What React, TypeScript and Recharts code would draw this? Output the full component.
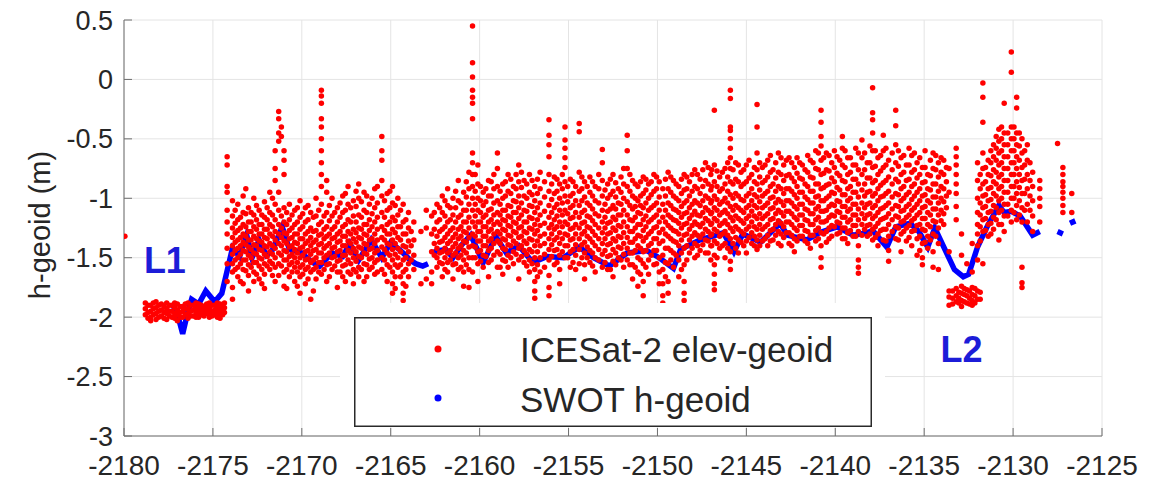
import React from 'react';
import { ComposedChart, Scatter, Line, XAxis, YAxis, CartesianGrid, Legend, ReferenceDot } from 'recharts';

const xTicks = [-2180, -2175, -2170, -2165, -2160, -2155, -2150, -2145, -2140, -2135, -2130, -2125];
const yTicks = [-3, -2.5, -2, -1.5, -1, -0.5, 0, 0.5];
const seriesNames = ['ICESat-2 elev-geoid', 'SWOT h-geoid'];
const seriesColors = ['#ff0000', '#0000ff'];
const regionLabels = [
  { text: 'L1', x: -2177.7, y: -1.52 },
  { text: 'L2', x: -2132.9, y: -2.27 },
];

type Col = [number, number[]];

const icesatL1: Col[] = [
  [-2179.95, [-1.32]],
  [-2178.8, [-1.88, -1.93, -1.98]],
  [-2178.65, [-1.9, -1.96, -2.01]],
  [-2178.5, [-1.9, -1.95, -2.0, -2.03]],
  [-2178.35, [-1.88, -1.93, -1.98]],
  [-2178.2, [-1.87, -1.92, -1.97, -2.02]],
  [-2178.05, [-1.9, -1.95, -2.0]],
  [-2177.9, [-1.89, -1.94, -1.99]],
  [-2177.75, [-1.91, -1.96, -2.01]],
  [-2177.6, [-1.88, -1.93, -1.97, -2.02]],
  [-2177.45, [-1.9, -1.95, -1.99]],
  [-2177.3, [-1.9, -1.95, -2.0]],
  [-2177.15, [-1.88, -1.92, -1.97, -2.01]],
  [-2177.0, [-1.89, -1.94, -1.98, -2.03]],
  [-2176.85, [-1.91, -1.96, -2.0]],
  [-2176.7, [-1.91, -1.95, -2.0]],
  [-2176.55, [-1.89, -1.93, -1.98]],
  [-2176.4, [-1.88, -1.93, -1.97, -2.01]],
  [-2176.25, [-1.9, -1.95, -1.99]],
  [-2176.1, [-1.9, -1.94, -1.99]],
  [-2175.95, [-1.88, -1.92, -1.96, -2.0]],
  [-2175.8, [-1.89, -1.93, -1.97, -2.0]],
  [-2175.65, [-1.9, -1.94, -1.98]],
  [-2175.5, [-1.91, -1.95, -1.99]],
  [-2175.35, [-1.89, -1.93, -1.97]],
  [-2175.2, [-1.88, -1.92, -1.96, -2.0]],
  [-2175.05, [-1.9, -1.95, -1.99]],
  [-2174.9, [-1.9, -1.94, -1.98]],
  [-2174.75, [-1.88, -1.92, -1.96, -2.0]],
  [-2174.6, [-1.89, -1.93, -1.97, -2.01]],
  [-2174.45, [-1.9, -1.94, -1.98]],
  [-2174.35, [-1.88, -1.92, -1.96]],
];

const icesatWest: Col[] = [
  [-2174.2, [-0.65, -0.72, -0.9, -0.95, -1.1, -1.2, -1.3, -1.42, -1.55, -1.7]],
  [-2173.9, [-1.02, -1.15, -1.25, -1.33, -1.4, -1.47, -1.55, -1.62, -1.75, -1.85]],
  [-2173.6, [-1.05, -1.18, -1.27, -1.35, -1.42, -1.5, -1.58, -1.66]],
  [-2173.3, [-0.98, -1.12, -1.22, -1.3, -1.37, -1.44, -1.52, -1.6, -1.72]],
  [-2173.0, [-1.08, -1.2, -1.28, -1.35, -1.41, -1.48, -1.56, -1.65, -1.78]],
  [-2172.7, [-1.0, -1.14, -1.24, -1.32, -1.39, -1.46, -1.54, -1.62, -1.7]],
  [-2172.4, [-1.1, -1.22, -1.3, -1.36, -1.43, -1.5, -1.57, -1.68]],
  [-2172.1, [-1.03, -1.16, -1.26, -1.33, -1.4, -1.47, -1.55, -1.64, -1.76]],
  [-2171.8, [-0.95, -1.12, -1.22, -1.3, -1.38, -1.45, -1.53, -1.6]],
  [-2171.5, [-0.6, -0.75, -0.85, -1.05, -1.18, -1.28, -1.35, -1.42, -1.5, -1.58, -1.7]],
  [-2171.3, [-0.27, -0.33, -0.45, -0.52, -0.95, -1.1, -1.22, -1.3, -1.38, -1.46, -1.55, -1.65]],
  [-2171.0, [-0.6, -0.68, -0.8, -1.08, -1.2, -1.29, -1.36, -1.44, -1.52, -1.62, -1.74]],
  [-2170.7, [-1.05, -1.18, -1.27, -1.34, -1.41, -1.49, -1.56, -1.66]],
  [-2170.4, [-1.1, -1.22, -1.3, -1.37, -1.43, -1.5, -1.58, -1.7]],
  [-2170.1, [-1.02, -1.16, -1.26, -1.34, -1.42, -1.5, -1.58, -1.66, -1.8]],
  [-2169.8, [-1.08, -1.2, -1.3, -1.38, -1.45, -1.52, -1.6, -1.72]],
  [-2169.5, [-1.12, -1.25, -1.33, -1.4, -1.47, -1.54, -1.62, -1.85]],
  [-2169.2, [-1.0, -1.15, -1.27, -1.35, -1.43, -1.5, -1.58, -1.68]],
  [-2168.9, [-0.09, -0.14, -0.2, -0.33, -0.4, -0.5, -0.6, -0.7, -0.8, -0.9, -1.05, -1.2, -1.3, -1.38, -1.46, -1.54, -1.64]],
  [-2168.6, [-0.85, -0.95, -1.12, -1.24, -1.32, -1.4, -1.48, -1.56, -1.7]],
  [-2168.3, [-1.0, -1.15, -1.26, -1.34, -1.42, -1.5, -1.6]],
  [-2168.0, [-1.08, -1.2, -1.3, -1.37, -1.45, -1.53, -1.62, -1.75]],
  [-2167.7, [-0.98, -1.12, -1.24, -1.32, -1.4, -1.48, -1.57, -1.66]],
  [-2167.4, [-0.9, -1.05, -1.18, -1.28, -1.36, -1.44, -1.52, -1.62]],
  [-2167.1, [-1.02, -1.15, -1.26, -1.34, -1.42, -1.5, -1.6, -1.72]],
  [-2166.8, [-0.88, -1.0, -1.14, -1.25, -1.33, -1.41, -1.49, -1.58, -1.66]],
  [-2166.5, [-0.95, -1.1, -1.22, -1.3, -1.38, -1.46, -1.55, -1.7]],
  [-2166.2, [-1.05, -1.18, -1.27, -1.35, -1.43, -1.51, -1.6]],
  [-2165.9, [-0.92, -1.08, -1.2, -1.3, -1.38, -1.46, -1.54, -1.64]],
  [-2165.5, [-0.48, -0.6, -0.68, -0.85, -0.98, -1.12, -1.24, -1.33, -1.41, -1.5, -1.6]],
  [-2165.2, [-0.96, -1.1, -1.22, -1.3, -1.38, -1.46, -1.56, -1.7]],
  [-2164.9, [-0.9, -1.04, -1.16, -1.26, -1.35, -1.43, -1.52, -1.62, -1.72, -1.8]],
  [-2164.6, [-1.0, -1.14, -1.24, -1.33, -1.42, -1.5, -1.58]],
  [-2164.3, [-1.05, -1.2, -1.3, -1.4, -1.52, -1.62, -1.72, -1.8, -1.86]],
  [-2164.0, [-1.12, -1.25, -1.36, -1.45, -1.55, -1.66]],
  [-2163.7, [-1.2, -1.35, -1.48, -1.6]],
  [-2163.3, [-1.28, -1.72]],
  [-2163.0, [-1.1, -1.25, -1.68]],
];

const icesatWestFill: Col[] = [
  [-2173.75, [-1.1, -1.21, -1.29, -1.37, -1.44, -1.52, -1.6]],
  [-2173.45, [-1.16, -1.25, -1.33, -1.4, -1.47, -1.55, -1.7]],
  [-2173.15, [-0.92, -1.13, -1.24, -1.32, -1.39, -1.45, -1.52, -1.61]],
  [-2172.85, [-1.12, -1.2, -1.28, -1.35, -1.43, -1.5, -1.58]],
  [-2172.55, [-1.06, -1.18, -1.26, -1.34, -1.4, -1.47, -1.54, -1.64]],
  [-2172.25, [-1.14, -1.22, -1.3, -1.37, -1.44, -1.51, -1.6, -1.72]],
  [-2171.95, [-1.08, -1.18, -1.26, -1.34, -1.41, -1.49, -1.57]],
  [-2171.65, [-1.0, -1.14, -1.24, -1.32, -1.4, -1.47, -1.55, -1.65]],
  [-2171.15, [-0.4, -0.48, -1.15, -1.25, -1.33, -1.4, -1.48, -1.57]],
  [-2170.85, [-1.12, -1.22, -1.3, -1.38, -1.45, -1.52, -1.6, -1.76]],
  [-2170.55, [-1.14, -1.25, -1.33, -1.4, -1.47, -1.54, -1.62]],
  [-2170.25, [-1.08, -1.2, -1.3, -1.38, -1.46, -1.54, -1.62, -1.74]],
  [-2169.95, [-1.13, -1.24, -1.34, -1.41, -1.48, -1.56, -1.64]],
  [-2169.65, [-1.06, -1.18, -1.28, -1.36, -1.44, -1.51, -1.58, -1.68]],
  [-2169.35, [-1.16, -1.28, -1.37, -1.44, -1.52, -1.6, -1.78]],
  [-2169.05, [-1.1, -1.22, -1.31, -1.39, -1.46, -1.54, -1.62]],
  [-2168.75, [-1.15, -1.26, -1.34, -1.42, -1.5, -1.6]],
  [-2168.45, [-1.06, -1.19, -1.3, -1.38, -1.46, -1.55, -1.66]],
  [-2168.15, [-1.12, -1.24, -1.33, -1.41, -1.49, -1.57]],
  [-2167.85, [-1.04, -1.16, -1.28, -1.36, -1.44, -1.52, -1.62]],
  [-2167.55, [-0.96, -1.1, -1.22, -1.32, -1.4, -1.48, -1.56, -1.7]],
  [-2167.25, [-1.08, -1.2, -1.3, -1.38, -1.46, -1.55, -1.64]],
  [-2166.95, [-0.94, -1.07, -1.2, -1.29, -1.37, -1.45, -1.53, -1.62]],
  [-2166.65, [-1.03, -1.16, -1.26, -1.34, -1.42, -1.5, -1.6]],
  [-2166.35, [-0.98, -1.12, -1.22, -1.31, -1.39, -1.47, -1.56, -1.66]],
  [-2166.05, [-1.0, -1.13, -1.24, -1.34, -1.42, -1.5, -1.58]],
  [-2165.75, [-0.9, -1.04, -1.16, -1.26, -1.35, -1.44, -1.52, -1.62]],
  [-2165.35, [-1.02, -1.16, -1.27, -1.35, -1.43, -1.52, -1.64]],
  [-2165.05, [-0.94, -1.08, -1.2, -1.3, -1.39, -1.48, -1.58]],
  [-2164.75, [-1.06, -1.19, -1.29, -1.38, -1.47, -1.56, -1.66, -1.76]],
  [-2164.45, [-1.1, -1.24, -1.35, -1.45, -1.56, -1.66]],
  [-2164.15, [-1.18, -1.3, -1.41, -1.5, -1.6, -1.74]],
  [-2163.85, [-1.28, -1.4, -1.52]],
];

const icesatCentral: Col[] = [
  [-2162.7, [-1.15, -1.3, -1.45, -1.62, -1.72]],
  [-2162.4, [-1.05, -1.2, -1.32, -1.42, -1.5, -1.58]],
  [-2162.1, [-0.98, -1.12, -1.26, -1.36, -1.45, -1.55, -1.66]],
  [-2161.8, [-0.92, -1.06, -1.2, -1.3, -1.38, -1.46, -1.54, -1.62]],
  [-2161.5, [-1.0, -1.14, -1.25, -1.33, -1.41, -1.48, -1.56, -1.68]],
  [-2161.2, [-0.85, -1.02, -1.16, -1.26, -1.34, -1.42, -1.5, -1.6]],
  [-2160.9, [-0.95, -1.1, -1.2, -1.28, -1.36, -1.44, -1.52, -1.62, -1.74]],
  [-2160.6, [-0.78, -0.92, -1.05, -1.16, -1.25, -1.33, -1.41, -1.5, -1.6, -1.75]],
  [-2160.4, [0.45, 0.14, 0.02, -0.09, -0.15, -0.2, -0.33, -0.62, -0.7, -0.8, -0.9, -1.0, -1.1, -1.2, -1.3, -1.4, -1.5, -1.62]],
  [-2160.1, [-0.72, -0.88, -1.0, -1.1, -1.2, -1.28, -1.36, -1.45, -1.55, -1.7]],
  [-2159.8, [-0.95, -1.06, -1.16, -1.24, -1.32, -1.4, -1.48, -1.58]],
  [-2159.5, [-0.85, -0.98, -1.1, -1.2, -1.28, -1.36, -1.44, -1.54, -1.66]],
  [-2159.2, [-0.8, -0.92, -1.04, -1.14, -1.22, -1.3, -1.38, -1.48]],
  [-2159.0, [-0.62, -0.75, -0.9, -1.02, -1.12, -1.2, -1.28, -1.36, -1.45, -1.58]],
  [-2158.7, [-0.88, -1.0, -1.1, -1.18, -1.26, -1.34, -1.42, -1.52, -1.64]],
  [-2158.4, [-0.8, -0.94, -1.06, -1.15, -1.23, -1.31, -1.39, -1.48, -1.58]],
  [-2158.1, [-0.9, -1.02, -1.12, -1.2, -1.28, -1.36, -1.45, -1.55]],
  [-2157.8, [-0.72, -0.86, -0.98, -1.08, -1.17, -1.25, -1.33, -1.42, -1.52, -1.68]],
  [-2157.5, [-0.85, -0.98, -1.1, -1.2, -1.28, -1.36, -1.44, -1.54]],
  [-2157.2, [-0.8, -0.95, -1.06, -1.16, -1.25, -1.34, -1.43, -1.52, -1.62]],
  [-2156.9, [-0.9, -1.02, -1.12, -1.22, -1.3, -1.4, -1.5, -1.6, -1.7, -1.78, -1.84]],
  [-2156.6, [-0.78, -0.92, -1.04, -1.14, -1.23, -1.32, -1.4, -1.5, -1.62]],
  [-2156.1, [-0.34, -0.47, -0.55, -0.65, -0.8, -0.94, -1.06, -1.16, -1.25, -1.34, -1.43, -1.52, -1.65, -1.75, -1.82]],
  [-2155.8, [-0.82, -0.96, -1.08, -1.18, -1.26, -1.35, -1.44, -1.56]],
  [-2155.5, [-0.88, -1.0, -1.1, -1.2, -1.29, -1.38, -1.48, -1.6, -1.72]],
  [-2155.2, [-0.4, -0.51, -0.58, -0.66, -0.74, -0.86, -0.98, -1.1, -1.2, -1.3, -1.4, -1.5]],
  [-2154.9, [-0.84, -0.98, -1.08, -1.17, -1.26, -1.35, -1.45, -1.58]],
  [-2154.6, [-0.9, -1.02, -1.12, -1.22, -1.3, -1.39, -1.48, -1.6]],
  [-2154.4, [-0.37, -0.44, -0.78, -0.94, -1.06, -1.16, -1.25, -1.34, -1.43, -1.55]],
  [-2154.1, [-0.86, -0.99, -1.1, -1.2, -1.28, -1.37, -1.46, -1.56, -1.68]],
  [-2153.8, [-0.82, -0.95, -1.06, -1.16, -1.25, -1.34, -1.44, -1.54]],
  [-2153.5, [-0.9, -1.02, -1.13, -1.22, -1.31, -1.4, -1.5, -1.62]],
  [-2153.1, [-0.59, -0.7, -0.85, -0.98, -1.1, -1.2, -1.29, -1.38, -1.47, -1.58]],
  [-2152.8, [-0.88, -1.0, -1.11, -1.21, -1.3, -1.39, -1.49, -1.6]],
  [-2152.5, [-0.8, -0.94, -1.06, -1.16, -1.25, -1.34, -1.43, -1.53, -1.66]],
  [-2152.2, [-0.92, -1.04, -1.14, -1.23, -1.32, -1.41, -1.5]],
  [-2151.9, [-0.75, -0.88, -1.0, -1.1, -1.2, -1.29, -1.38, -1.47, -1.58]],
  [-2151.7, [-0.47, -0.6, -0.75, -0.9, -1.03, -1.14, -1.24, -1.33, -1.42, -1.52]],
  [-2151.4, [-0.85, -0.98, -1.09, -1.19, -1.28, -1.37, -1.46, -1.56, -1.68]],
  [-2151.1, [-0.9, -1.02, -1.12, -1.22, -1.31, -1.4, -1.5, -1.62, -1.74]],
  [-2150.8, [-0.82, -0.96, -1.08, -1.18, -1.27, -1.36, -1.45, -1.55, -1.7, -1.82]],
  [-2150.5, [-0.88, -1.0, -1.1, -1.2, -1.3, -1.4, -1.52, -1.64]],
  [-2150.2, [-0.8, -0.94, -1.06, -1.16, -1.25, -1.34, -1.44, -1.56]],
  [-2149.9, [-0.86, -0.99, -1.1, -1.2, -1.29, -1.38, -1.5, -1.62, -1.72]],
  [-2149.7, [-0.92, -1.05, -1.16, -1.26, -1.36, -1.48, -1.6, -1.72, -1.82, -1.88]],
  [-2149.4, [-0.78, -0.92, -1.04, -1.14, -1.23, -1.32, -1.42, -1.55, -1.7, -1.8]],
  [-2149.1, [-0.85, -0.98, -1.09, -1.18, -1.27, -1.36, -1.46, -1.58]],
  [-2148.8, [-0.9, -1.02, -1.12, -1.21, -1.3, -1.4, -1.52, -1.66]],
  [-2148.5, [-0.8, -0.93, -1.04, -1.13, -1.22, -1.31, -1.42, -1.56, -1.7, -1.8, -1.86]],
  [-2148.2, [-0.86, -0.98, -1.08, -1.17, -1.26, -1.35, -1.46]],
  [-2147.9, [-0.76, -0.9, -1.02, -1.11, -1.2, -1.29, -1.38, -1.5]],
  [-2147.6, [-0.84, -0.96, -1.06, -1.15, -1.24, -1.33, -1.44]],
  [-2147.3, [-0.7, -0.85, -0.98, -1.08, -1.17, -1.26, -1.35, -1.46]],
  [-2147.0, [-0.8, -0.93, -1.04, -1.13, -1.22, -1.31, -1.4, -1.52]],
];

const icesatCentralFill: Col[] = [
  [-2162.55, [-1.12, -1.26, -1.38, -1.48]],
  [-2162.25, [-1.08, -1.18, -1.28, -1.37, -1.46, -1.54]],
  [-2161.95, [-1.02, -1.15, -1.24, -1.33, -1.42, -1.5, -1.6]],
  [-2161.65, [-1.08, -1.18, -1.27, -1.36, -1.44, -1.52]],
  [-2161.35, [-0.94, -1.08, -1.2, -1.3, -1.38, -1.46, -1.55]],
  [-2161.05, [-1.04, -1.14, -1.24, -1.32, -1.4, -1.48, -1.58]],
  [-2160.75, [-0.86, -0.99, -1.1, -1.2, -1.29, -1.37, -1.46, -1.56]],
  [-2160.25, [-0.8, -0.94, -1.05, -1.15, -1.24, -1.32, -1.41, -1.5]],
  [-2159.95, [-0.9, -1.02, -1.12, -1.2, -1.28, -1.36, -1.44, -1.53]],
  [-2159.65, [-0.92, -1.03, -1.14, -1.24, -1.32, -1.4, -1.49]],
  [-2159.35, [-0.86, -0.98, -1.09, -1.18, -1.26, -1.34, -1.42, -1.52]],
  [-2158.85, [-0.94, -1.05, -1.14, -1.22, -1.3, -1.38, -1.47, -1.58]],
  [-2158.55, [-0.86, -0.98, -1.1, -1.19, -1.27, -1.35, -1.43, -1.53]],
  [-2158.25, [-0.84, -0.96, -1.07, -1.16, -1.24, -1.32, -1.4, -1.5]],
  [-2157.95, [-0.8, -0.92, -1.03, -1.12, -1.21, -1.29, -1.38, -1.47]],
  [-2157.65, [-0.78, -0.91, -1.04, -1.14, -1.24, -1.32, -1.4, -1.49]],
  [-2157.35, [-0.88, -1.0, -1.11, -1.2, -1.29, -1.38, -1.47, -1.57]],
  [-2157.05, [-0.85, -0.97, -1.07, -1.17, -1.26, -1.35, -1.45, -1.55]],
  [-2156.75, [-0.84, -0.96, -1.08, -1.18, -1.27, -1.36, -1.45, -1.56, -1.66]],
  [-2156.35, [-0.86, -0.99, -1.11, -1.21, -1.3, -1.38, -1.47, -1.58]],
  [-2155.95, [-0.88, -1.01, -1.12, -1.22, -1.3, -1.39, -1.49]],
  [-2155.65, [-0.84, -0.94, -1.05, -1.15, -1.24, -1.33, -1.43, -1.54]],
  [-2155.35, [-0.8, -0.92, -1.04, -1.14, -1.24, -1.34, -1.45]],
  [-2155.05, [-0.9, -1.03, -1.13, -1.22, -1.31, -1.4, -1.5]],
  [-2154.75, [-0.86, -0.96, -1.06, -1.16, -1.25, -1.34, -1.43, -1.54]],
  [-2154.25, [-0.82, -0.92, -1.02, -1.12, -1.21, -1.3, -1.39, -1.5]],
  [-2153.95, [-0.9, -1.04, -1.15, -1.24, -1.32, -1.41, -1.5]],
  [-2153.65, [-0.86, -0.98, -1.09, -1.19, -1.28, -1.37, -1.46, -1.57]],
  [-2153.3, [-0.8, -0.92, -1.04, -1.15, -1.25, -1.34, -1.43, -1.52]],
  [-2152.95, [-0.93, -1.05, -1.16, -1.25, -1.34, -1.44, -1.54]],
  [-2152.65, [-0.84, -0.97, -1.09, -1.2, -1.29, -1.38, -1.48, -1.6]],
  [-2152.35, [-0.87, -0.99, -1.09, -1.18, -1.27, -1.36, -1.46, -1.56]],
  [-2152.05, [-0.82, -0.95, -1.05, -1.14, -1.24, -1.33, -1.42, -1.52]],
  [-2151.55, [-0.8, -0.94, -1.06, -1.18, -1.28, -1.37, -1.46, -1.56]],
  [-2151.25, [-0.88, -1.0, -1.07, -1.16, -1.25, -1.34, -1.44, -1.58]],
  [-2150.95, [-0.86, -0.98, -1.06, -1.13, -1.22, -1.32, -1.42, -1.52, -1.64]],
  [-2150.65, [-0.84, -0.93, -1.04, -1.15, -1.24, -1.33, -1.44, -1.58]],
  [-2150.35, [-0.86, -0.97, -1.08, -1.18, -1.28, -1.38, -1.48]],
  [-2150.05, [-0.82, -0.92, -1.04, -1.14, -1.24, -1.34, -1.44, -1.55]],
  [-2149.55, [-0.84, -0.98, -1.1, -1.2, -1.3, -1.42, -1.54, -1.66]],
  [-2149.25, [-0.82, -0.95, -1.06, -1.16, -1.25, -1.34, -1.44, -1.52]],
  [-2148.95, [-0.88, -1.0, -1.1, -1.19, -1.28, -1.37, -1.48]],
  [-2148.65, [-0.84, -0.96, -1.07, -1.16, -1.25, -1.35, -1.46, -1.6]],
  [-2148.35, [-0.82, -0.92, -1.02, -1.12, -1.21, -1.3, -1.4, -1.52]],
  [-2148.05, [-0.8, -0.94, -1.05, -1.14, -1.23, -1.32, -1.42]],
  [-2147.75, [-0.8, -0.92, -1.04, -1.14, -1.22, -1.31, -1.4, -1.48]],
  [-2147.45, [-0.76, -0.9, -1.02, -1.12, -1.21, -1.3, -1.39]],
  [-2147.15, [-0.74, -0.88, -1.0, -1.1, -1.19, -1.28, -1.36, -1.46]],
];

const icesatEast: Col[] = [
  [-2146.8, [-0.26, -0.72, -0.86, -0.98, -1.08, -1.17, -1.26, -1.36, -1.48, -1.56, -1.64, -1.72, -1.77]],
  [-2146.5, [-0.82, -0.94, -1.05, -1.14, -1.23, -1.32, -1.42]],
  [-2146.2, [-0.75, -0.88, -1.0, -1.1, -1.19, -1.28, -1.38, -1.5]],
  [-2145.9, [-0.09, -0.16, -0.4, -0.43, -0.5, -0.58, -0.66, -0.75, -0.86, -0.97, -1.07, -1.16, -1.25, -1.34, -1.45, -1.53, -1.6]],
  [-2145.6, [-0.7, -0.84, -0.96, -1.06, -1.15, -1.24, -1.33, -1.42]],
  [-2145.3, [-0.78, -0.9, -1.01, -1.1, -1.19, -1.28, -1.37]],
  [-2145.0, [-0.72, -0.86, -0.98, -1.08, -1.17, -1.26, -1.36, -1.46]],
  [-2144.7, [-0.8, -0.92, -1.02, -1.11, -1.2, -1.29, -1.38]],
  [-2144.4, [-0.21, -0.4, -0.62, -0.76, -0.88, -0.99, -1.08, -1.17, -1.26, -1.35, -1.43]],
  [-2144.1, [-0.74, -0.87, -0.98, -1.08, -1.17, -1.26, -1.36]],
  [-2143.8, [-0.68, -0.82, -0.94, -1.04, -1.13, -1.22, -1.31, -1.4]],
  [-2143.5, [-0.76, -0.88, -0.99, -1.08, -1.17, -1.26, -1.35]],
  [-2143.2, [-0.62, -0.78, -0.9, -1.01, -1.1, -1.19, -1.28, -1.38]],
  [-2142.9, [-0.72, -0.85, -0.96, -1.06, -1.15, -1.24, -1.33]],
  [-2142.6, [-0.66, -0.8, -0.92, -1.02, -1.11, -1.2, -1.29, -1.38]],
  [-2142.3, [-0.74, -0.86, -0.97, -1.07, -1.16, -1.25, -1.34, -1.45]],
  [-2142.0, [-0.7, -0.83, -0.95, -1.05, -1.14, -1.23, -1.32]],
  [-2141.7, [-0.76, -0.88, -0.99, -1.09, -1.18, -1.27, -1.36]],
  [-2141.4, [-0.68, -0.82, -0.94, -1.04, -1.13, -1.22, -1.31, -1.42]],
  [-2141.1, [-0.6, -0.75, -0.88, -0.99, -1.09, -1.18, -1.27, -1.36]],
  [-2140.8, [-0.26, -0.36, -0.48, -0.56, -0.68, -0.8, -0.92, -1.02, -1.11, -1.2, -1.29, -1.4, -1.5, -1.58]],
  [-2140.5, [-0.62, -0.76, -0.89, -1.0, -1.1, -1.19, -1.28, -1.37]],
  [-2140.2, [-0.7, -0.83, -0.95, -1.05, -1.14, -1.23, -1.32]],
  [-2139.9, [-0.65, -0.79, -0.91, -1.02, -1.11, -1.2, -1.3]],
  [-2139.6, [-0.48, -0.58, -0.72, -0.85, -0.97, -1.07, -1.16, -1.25, -1.34]],
  [-2139.3, [-0.66, -0.8, -0.92, -1.02, -1.11, -1.2, -1.29, -1.38]],
  [-2139.0, [-0.72, -0.84, -0.95, -1.05, -1.14, -1.23, -1.32]],
  [-2138.7, [-0.62, -0.76, -0.88, -0.99, -1.09, -1.18, -1.28, -1.4, -1.52, -1.58, -1.63]],
  [-2138.5, [-0.51, -0.66, -0.8, -0.93, -1.04, -1.13, -1.22, -1.31]],
  [-2138.2, [-0.7, -0.83, -0.95, -1.05, -1.14, -1.23, -1.32]],
  [-2137.9, [-0.07, -0.28, -0.34, -0.45, -0.6, -0.74, -0.87, -0.98, -1.08, -1.17, -1.26, -1.35]],
  [-2137.6, [-0.66, -0.8, -0.92, -1.02, -1.12, -1.21, -1.3, -1.4]],
  [-2137.3, [-0.47, -0.6, -0.74, -0.87, -0.98, -1.08, -1.17, -1.26, -1.35]],
  [-2137.0, [-0.68, -0.82, -0.94, -1.04, -1.13, -1.22, -1.32, -1.44, -1.53]],
  [-2136.6, [-0.26, -0.39, -0.55, -0.7, -0.84, -0.96, -1.06, -1.15, -1.24, -1.34]],
  [-2136.3, [-0.66, -0.8, -0.92, -1.02, -1.11, -1.2, -1.3, -1.45]],
  [-2136.0, [-0.72, -0.85, -0.97, -1.07, -1.16, -1.25, -1.36]],
  [-2135.7, [-0.64, -0.78, -0.9, -1.01, -1.1, -1.19, -1.28, -1.4]],
  [-2135.4, [-0.7, -0.83, -0.95, -1.05, -1.14, -1.23, -1.34, -1.48]],
  [-2135.1, [-0.74, -0.87, -0.98, -1.08, -1.17, -1.26, -1.38, -1.5, -1.56]],
  [-2134.8, [-0.8, -0.92, -1.02, -1.12, -1.22, -1.32, -1.42]],
  [-2134.5, [-0.62, -0.75, -0.88, -0.99, -1.09, -1.19, -1.3, -1.45, -1.58]],
  [-2134.2, [-0.7, -0.82, -0.94, -1.04, -1.14, -1.25, -1.38, -1.6]],
  [-2133.9, [-0.68, -0.8, -0.92, -1.03, -1.13, -1.22]],
];

const icesatEastFill: Col[] = [
  [-2146.95, [-0.76, -0.9, -1.02, -1.12, -1.21, -1.3, -1.4]],
  [-2146.65, [-0.77, -0.9, -1.01, -1.1, -1.19, -1.28, -1.38, -1.5]],
  [-2146.35, [-0.78, -0.92, -1.03, -1.12, -1.21, -1.3, -1.4]],
  [-2146.05, [-0.7, -0.82, -0.94, -1.04, -1.13, -1.22, -1.31, -1.42]],
  [-2145.75, [-0.76, -0.88, -1.0, -1.1, -1.19, -1.28, -1.38]],
  [-2145.45, [-0.72, -0.86, -0.98, -1.08, -1.17, -1.26, -1.35, -1.46]],
  [-2145.15, [-0.76, -0.88, -1.02, -1.12, -1.21, -1.3, -1.4]],
  [-2144.85, [-0.68, -0.83, -0.96, -1.06, -1.15, -1.24, -1.33]],
  [-2144.55, [-0.74, -0.86, -0.97, -1.06, -1.15, -1.24, -1.32, -1.4]],
  [-2144.25, [-0.7, -0.82, -0.93, -1.03, -1.13, -1.22, -1.31, -1.4]],
  [-2143.95, [-0.72, -0.85, -0.96, -1.06, -1.15, -1.24, -1.34]],
  [-2143.65, [-0.64, -0.78, -0.9, -1.0, -1.09, -1.18, -1.27, -1.36]],
  [-2143.35, [-0.7, -0.83, -0.94, -1.04, -1.13, -1.22, -1.31]],
  [-2143.05, [-0.66, -0.8, -0.92, -1.03, -1.12, -1.21, -1.3, -1.4]],
  [-2142.75, [-0.68, -0.81, -0.92, -1.02, -1.11, -1.2, -1.29]],
  [-2142.45, [-0.7, -0.83, -0.94, -1.04, -1.13, -1.22, -1.31, -1.4]],
  [-2142.15, [-0.66, -0.79, -0.9, -1.0, -1.09, -1.18, -1.27, -1.36]],
  [-2141.85, [-0.72, -0.84, -0.95, -1.05, -1.14, -1.23, -1.32]],
  [-2141.55, [-0.64, -0.78, -0.9, -1.01, -1.1, -1.19, -1.28, -1.38]],
  [-2141.25, [-0.7, -0.83, -0.94, -1.04, -1.13, -1.22, -1.31]],
  [-2140.95, [-0.62, -0.76, -0.88, -0.98, -1.07, -1.16, -1.25, -1.34]],
  [-2140.65, [-0.66, -0.79, -0.91, -1.02, -1.11, -1.2, -1.3]],
  [-2140.35, [-0.64, -0.77, -0.88, -0.98, -1.07, -1.16, -1.25, -1.34]],
  [-2140.05, [-0.6, -0.74, -0.86, -0.96, -1.06, -1.15, -1.24]],
  [-2139.75, [-0.68, -0.81, -0.93, -1.03, -1.12, -1.21, -1.29]],
  [-2139.45, [-0.6, -0.74, -0.86, -0.97, -1.07, -1.16, -1.25, -1.34]],
  [-2139.15, [-0.66, -0.78, -0.9, -1.0, -1.09, -1.18, -1.27]],
  [-2138.85, [-0.58, -0.72, -0.84, -0.95, -1.05, -1.14, -1.23, -1.32]],
  [-2138.35, [-0.62, -0.76, -0.88, -0.98, -1.08, -1.17, -1.26]],
  [-2138.05, [-0.56, -0.7, -0.83, -0.94, -1.04, -1.13, -1.22, -1.3]],
  [-2137.75, [-0.6, -0.73, -0.85, -0.96, -1.06, -1.15, -1.24, -1.33]],
  [-2137.45, [-0.64, -0.77, -0.89, -0.99, -1.09, -1.18, -1.27]],
  [-2137.15, [-0.58, -0.72, -0.85, -0.96, -1.06, -1.16, -1.26, -1.36]],
  [-2136.8, [-0.62, -0.76, -0.88, -0.99, -1.09, -1.18, -1.28]],
  [-2136.45, [-0.6, -0.73, -0.86, -0.97, -1.07, -1.16, -1.25, -1.35]],
  [-2136.15, [-0.64, -0.78, -0.9, -1.0, -1.1, -1.19, -1.28]],
  [-2135.85, [-0.58, -0.72, -0.84, -0.95, -1.05, -1.14, -1.23, -1.33]],
  [-2135.55, [-0.62, -0.76, -0.88, -0.98, -1.08, -1.17, -1.27]],
  [-2135.25, [-0.66, -0.8, -0.92, -1.02, -1.12, -1.22, -1.32, -1.44]],
  [-2134.95, [-0.6, -0.74, -0.86, -0.97, -1.07, -1.17, -1.27, -1.37]],
  [-2134.65, [-0.68, -0.81, -0.93, -1.04, -1.14, -1.24, -1.35]],
  [-2134.35, [-0.64, -0.76, -0.88, -0.99, -1.09, -1.2, -1.32]],
  [-2134.05, [-0.66, -0.78, -0.9, -1.0, -1.1, -1.19]],
  [-2133.75, [-0.74, -0.86, -0.98, -1.08]],
];

const icesatL2: Col[] = [
  [-2133.6, [-0.75, -0.95, -1.45, -1.78, -1.83, -1.9]],
  [-2133.4, [-1.78, -1.84, -1.89]],
  [-2133.2, [-0.58, -0.65, -0.72, -0.8, -0.88, -0.96, -1.07, -1.18, -1.76, -1.82, -1.87]],
  [-2133.05, [-1.79, -1.84, -1.88]],
  [-2132.9, [-1.3, -1.48, -1.74, -1.8, -1.86, -1.91]],
  [-2132.75, [-1.76, -1.81, -1.87]],
  [-2132.6, [-1.55, -1.77, -1.82, -1.88]],
  [-2132.45, [-1.78, -1.84, -1.89]],
  [-2132.3, [-1.38, -1.62, -1.75, -1.81, -1.86, -1.9]],
  [-2132.15, [-1.76, -1.82, -1.88]],
  [-2132.0, [-0.7, -0.85, -1.0, -1.12, -1.22, -1.3, -1.4, -1.52, -1.78, -1.85]],
  [-2131.85, [-0.8, -0.92, -1.04, -1.14, -1.24, -1.36, -1.79, -1.85]],
  [-2131.7, [-0.03, -0.15, -0.36, -0.62, -0.75, -0.88, -0.98, -1.08, -1.18, -1.28, -1.55]],
  [-2131.55, [-0.74, -0.86, -0.97, -1.07, -1.17, -1.27]],
  [-2131.4, [-0.68, -0.8, -0.92, -1.02, -1.12, -1.22, -1.32]],
  [-2131.25, [-0.6, -0.7, -0.81, -0.91, -1.01, -1.11, -1.21, -1.3]],
  [-2131.1, [-0.55, -0.65, -0.76, -0.86, -0.96, -1.06, -1.16, -1.26]],
  [-2130.95, [-0.48, -0.58, -0.68, -0.78, -0.88, -0.98, -1.08, -1.18]],
  [-2130.8, [-0.42, -0.52, -0.62, -0.72, -0.82, -0.92, -1.02, -1.12, -1.22, -1.35]],
  [-2130.65, [-0.4, -0.5, -0.6, -0.7, -0.8, -0.9, -1.0, -1.1, -1.22]],
  [-2130.5, [-0.2, -0.45, -0.55, -0.65, -0.75, -0.85, -0.95, -1.05, -1.15, -1.28]],
  [-2130.3, [-0.45, -0.55, -0.65, -0.75, -0.85, -0.95, -1.05, -1.15]],
  [-2130.1, [0.23, 0.06, -0.4, -0.5, -0.6, -0.7, -0.8, -0.9, -1.0, -1.1, -1.2]],
  [-2129.95, [-0.4, -0.5, -0.6, -0.7, -0.8, -0.9, -1.0, -1.12]],
  [-2129.8, [-0.15, -0.24, -0.45, -0.55, -0.65, -0.75, -0.86, -0.96, -1.06, -1.18]],
  [-2129.65, [-0.45, -0.56, -0.68, -0.8, -0.91, -1.02, -1.14]],
  [-2129.5, [-0.5, -0.62, -0.74, -0.85, -0.96, -1.08, -1.2, -1.58, -1.71, -1.75]],
  [-2129.35, [-0.6, -0.72, -0.84, -0.96, -1.1]],
  [-2129.2, [-0.55, -0.68, -0.8, -0.92, -1.05, -1.2]],
  [-2129.05, [-0.7, -0.85, -0.98, -1.1]],
  [-2128.9, [-0.78, -0.9, -1.02, -1.15, -1.28]],
  [-2128.5, [-0.85, -0.92, -1.0, -1.07, -1.2]],
  [-2127.5, [-0.54]],
  [-2127.2, [-0.74, -0.8, -0.86, -0.9, -0.95, -1.0, -1.06, -1.12]],
  [-2126.7, [-0.96, -1.12]],
];

const swotPoints: [number, number | null][] = [
  [-2177.3, -1.88], [-2176.95, -2.0], [-2176.7, -2.14], [-2176.4, -1.95], [-2176.2, -1.85],
  [-2175.8, -1.89], [-2175.4, -1.78], [-2174.9, -1.87], [-2174.5, -1.8], [-2173.9, -1.42],
  [-2173.5, -1.49], [-2173.1, -1.31], [-2172.8, -1.5], [-2172.4, -1.35], [-2172.0, -1.48],
  [-2171.7, -1.45], [-2171.1, -1.24], [-2170.7, -1.43], [-2170.1, -1.45], [-2169.4, -1.54],
  [-2169.0, -1.57], [-2168.3, -1.46], [-2167.7, -1.49], [-2167.3, -1.38], [-2166.8, -1.52],
  [-2166.1, -1.35], [-2165.5, -1.5], [-2165.0, -1.37], [-2164.3, -1.46], [-2163.9, -1.52],
  [-2163.6, -1.55], [-2163.2, -1.57], [-2162.9, -1.55], [-2162.8, null],
  [-2162.7, -1.46], [-2162.3, -1.44], [-2161.9, -1.43], [-2161.5, -1.5], [-2161.0, -1.39],
  [-2160.5, -1.31], [-2159.8, -1.54], [-2159.1, -1.32], [-2158.5, -1.46], [-2157.8, -1.4],
  [-2157.0, -1.54], [-2156.2, -1.49], [-2155.3, -1.5], [-2154.4, -1.41], [-2153.6, -1.5],
  [-2152.7, -1.57], [-2151.7, -1.46], [-2150.6, -1.44], [-2149.9, -1.5], [-2149.1, -1.59],
  [-2148.7, -1.43], [-2147.6, -1.35], [-2146.7, -1.31], [-2146.3, -1.29], [-2145.7, -1.45],
  [-2145.2, -1.3], [-2144.2, -1.37], [-2143.1, -1.21], [-2142.7, -1.31], [-2141.6, -1.35],
  [-2140.9, -1.29], [-2139.9, -1.24], [-2139.0, -1.31], [-2138.2, -1.29], [-2137.9, -1.27],
  [-2137.1, -1.41], [-2136.6, -1.24], [-2135.8, -1.21], [-2135.3, -1.28], [-2134.8, -1.41],
  [-2134.4, -1.25], [-2133.3, -1.6], [-2132.8, -1.66], [-2132.5, -1.64], [-2132.0, -1.41],
  [-2131.5, -1.25], [-2130.8, -1.06], [-2130.5, -1.12], [-2130.1, -1.11], [-2129.6, -1.15],
  [-2128.9, -1.31], [-2128.5, -1.28], [-2128.0, null],
  [-2127.5, -1.28], [-2127.2, -1.3], [-2127.0, null],
  [-2126.8, -1.21], [-2126.5, -1.19],
];

const icesatData = [
  ...icesatL1,
  ...icesatWest,
  ...icesatWestFill,
  ...icesatCentral,
  ...icesatCentralFill,
  ...icesatEast,
  ...icesatEastFill,
  ...icesatL2,
].flatMap(([x, ys]) => ys.map((y) => ({ x, y })));
const swotData = swotPoints.map(([x, y]) => ({ x, y }));

const FONT = 'Arial, "Liberation Sans", Helvetica, sans-serif';
const TEXT = '#262626';
const AXIS = '#6e6e6e';

const RedDot = (props: any) => {
  if (props.cx == null || props.cy == null) return null;
  return <circle cx={props.cx} cy={props.cy} r={2.75} fill={seriesColors[0]} />;
};

const LegendBox = () => (
  <div style={{ position: 'absolute', left: 0, top: 0, width: 545, height: 124, background: '#fff' }}>
    <svg width={518} height={110} style={{ position: 'absolute', left: 14, top: 14 }}>
      <rect x={0.75} y={0.75} width={516.5} height={108.5} fill="#fff" stroke="#2a2a2a" strokeWidth={1.5} />
      {seriesNames.map((name, i) => (
        <g key={name}>
          <circle cx={84} cy={32 + i * 49} r={3.5} fill={seriesColors[i]} />
          <text x={166} y={45 + i * 50} fontSize={35} fontFamily={FONT} fill={TEXT}>
            {name}
          </text>
        </g>
      ))}
    </svg>
  </div>
);

const YLabel = (props: any) => {
  const vb = props.viewBox || { x: 0, y: 20, width: 124, height: 416 };
  const cx = vb.x + 40;
  const cy = vb.y + vb.height / 2 - 3;
  return (
    <text
      x={cx}
      y={cy}
      transform={`rotate(-90, ${cx}, ${cy})`}
      textAnchor="middle"
      dominantBaseline="central"
      fontSize={29}
      fontFamily={FONT}
      fill={TEXT}
    >
      h-geoid (m)
    </text>
  );
};

export default function App() {
  return (
    <div style={{ position: 'absolute', left: 0, top: 0, width: 1166, height: 484, background: '#fff' }}>
      <ComposedChart width={1166} height={484} margin={{ top: 20, right: 64, left: 0, bottom: 0 }}>
        <CartesianGrid stroke="#e4e4e4" strokeWidth={1} />
        <XAxis
          xAxisId={0}
          type="number"
          dataKey="x"
          domain={[-2180, -2125]}
          ticks={xTicks}
          allowDataOverflow
          height={48}
          stroke={AXIS}
          tickSize={-8}
          tickMargin={27}
          tick={{ fontSize: 28, fontFamily: FONT, fill: TEXT }}
        />
        <XAxis
          xAxisId="top"
          orientation="top"
          type="number"
          domain={[-2180, -2125]}
          ticks={xTicks}
          allowDataOverflow
          height={0}
          stroke={AXIS}
          tickSize={-8}
          tick={false}
        />
        <YAxis
          yAxisId={0}
          type="number"
          dataKey="y"
          domain={[-3, 0.5]}
          ticks={yTicks}
          allowDataOverflow
          width={124}
          stroke={AXIS}
          tickSize={-8}
          tickMargin={19}
          tick={{ fontSize: 27, fontFamily: FONT, fill: TEXT }}
          label={<YLabel />}
        />
        <YAxis
          yAxisId="right"
          orientation="right"
          type="number"
          domain={[-3, 0.5]}
          ticks={yTicks}
          allowDataOverflow
          width={0}
          stroke={AXIS}
          tickSize={-8}
          tick={false}
        />
        <Scatter
          name={seriesNames[0]}
          data={icesatData}
          fill={seriesColors[0]}
          shape={<RedDot />}
          isAnimationActive={false}
        />
        <Line
          name={seriesNames[1]}
          data={swotData}
          dataKey="y"
          stroke={seriesColors[1]}
          strokeWidth={5.5}
          dot={false}
          activeDot={false}
          type="linear"
          connectNulls={false}
          isAnimationActive={false}
        />
        {regionLabels.map((l) => (
          <ReferenceDot
            key={l.text}
            x={l.x}
            y={l.y}
            r={0}
            stroke="none"
            fill="none"
            label={{
              value: l.text,
              position: 'center',
              fill: '#1c1cd8',
              fontSize: 36,
              fontWeight: 'bold',
              fontFamily: FONT,
            }}
          />
        ))}
        <Legend
          layout="vertical"
          verticalAlign="middle"
          align="center"
          wrapperStyle={{ position: 'absolute', left: 340, top: 303, width: 545, height: 124 }}
          content={() => <LegendBox />}
        />
      </ComposedChart>
    </div>
  );
}
